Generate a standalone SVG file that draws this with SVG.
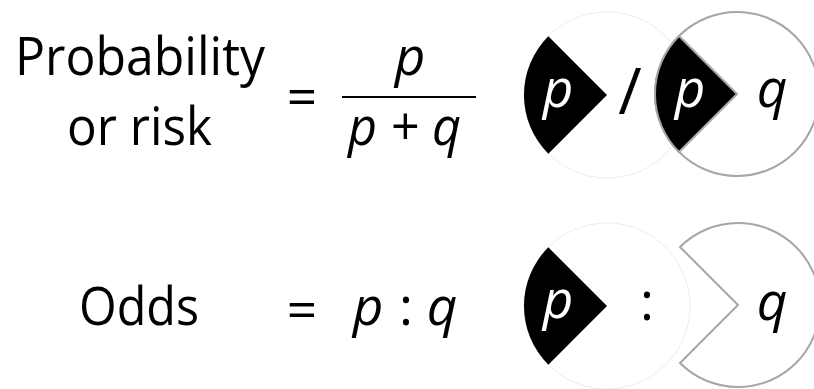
<svg xmlns="http://www.w3.org/2000/svg" width="814" height="389" viewBox="0 0 814 389">
<style>
.t{font-family:"Open Sans","Liberation Sans",sans-serif;font-size:53px;fill:#000}
.i{font-style:italic}
.w{fill:#fff}
.faint{fill:#fff;stroke:#ececec;stroke-width:1}
.ring{fill:#fff;stroke:#a6a6a6;stroke-width:2}
.wedge{fill:#000}
.wedge2{fill:#000;stroke:#a6a6a6;stroke-width:2}
</style>
<rect width="814" height="389" fill="#fff"/>
<g id="prob-label">
<text class="t" x="15" y="75" textLength="250" lengthAdjust="spacingAndGlyphs">Probability</text>
<text class="t" x="67" y="145" textLength="145" lengthAdjust="spacingAndGlyphs">or risk</text>
</g>
<g id="prob-formula">
<text class="t" x="302" y="116" text-anchor="middle">=</text>
<text class="t i" x="410" y="75" text-anchor="middle">p</text>
<line x1="342" y1="97" x2="476" y2="97" stroke="#000" stroke-width="2"/>
<text class="t i" x="348" y="145" textLength="113" lengthAdjust="spacingAndGlyphs">p + q</text>
</g>
<g id="prob-picture">
<circle class="faint" cx="607" cy="95" r="83"/>
<path class="wedge" d="M607,95 L548.3,36.3 A83,83 0 0 0 548.3,153.7 Z"/>
<text class="t i w" x="558" y="107" text-anchor="middle">p</text>
<text class="t" x="630" y="114" text-anchor="middle" style="font-size:64px">/</text>
<circle class="ring" cx="737" cy="94" r="82"/>
<path class="wedge2" d="M737,94 L679,36 A82,82 0 0 0 679,152 Z"/>
<text class="t i w" x="690" y="107" text-anchor="middle">p</text>
<text class="t i" x="772" y="107" text-anchor="middle">q</text>
</g>
<g id="odds-label">
<text class="t" x="79" y="325" textLength="120" lengthAdjust="spacingAndGlyphs">Odds</text>
</g>
<g id="odds-formula">
<text class="t" x="302" y="329" text-anchor="middle">=</text>
<text class="t i" x="368" y="325" text-anchor="middle">p</text>
<text class="t" x="406" y="325" text-anchor="middle">:</text>
<text class="t i" x="442" y="325" text-anchor="middle">q</text>
</g>
<g id="odds-picture">
<circle class="faint" cx="607" cy="306" r="83"/>
<path class="wedge" d="M607,306 L548.3,247.3 A83,83 0 0 0 548.3,364.7 Z"/>
<text class="t i w" x="558" y="318" text-anchor="middle">p</text>
<text class="t" x="647" y="320" text-anchor="middle">:</text>
<path class="ring" d="M738,305 L680,247 A82,82 0 1 1 680,363 Z"/>
<text class="t i" x="772" y="320" text-anchor="middle">q</text>
</g>
</svg>
